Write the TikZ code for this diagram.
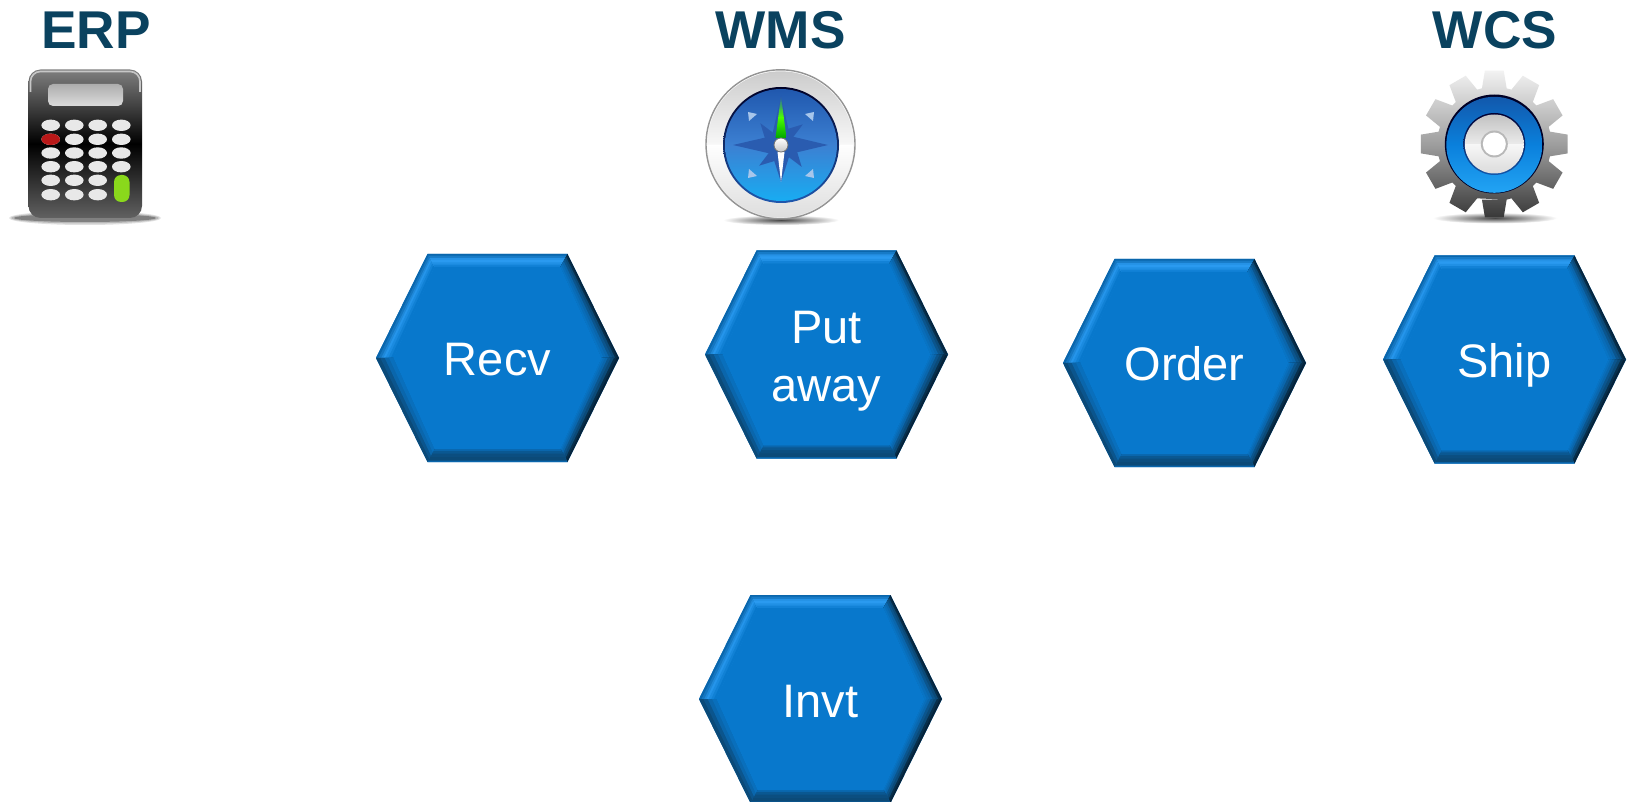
\documentclass[tikz,border=0pt]{standalone}
\usepackage{fontspec}
\setmainfont{Liberation Sans}
\usetikzlibrary{calc}
\definecolor{hexblue}{HTML}{0878CC}
\definecolor{hexhi}{HTML}{2A9AF0}
\definecolor{hexmid}{HTML}{0A66AC}
\definecolor{hexlo}{HTML}{0B4A78}
\definecolor{hexdk}{HTML}{06233A}
\definecolor{titleblue}{HTML}{0A425F}
\definecolor{compA}{HTML}{2058AE}
\definecolor{compB}{HTML}{3C80D2}
\definecolor{compC}{HTML}{18ACF2}
\definecolor{compStar}{HTML}{2A5CB0}
\definecolor{gearBlueA}{HTML}{1258AC}
\definecolor{gearBlueB}{HTML}{0A80DC}
\definecolor{gearBlueC}{HTML}{22A4F4}
\definecolor{keyGreen}{HTML}{8AD81C}
\definecolor{keyRed}{HTML}{B81818}
\tikzset{
  title/.style={font=\fontsize{26.6}{30}\selectfont\bfseries,text=titleblue,inner sep=0pt},
  hexlabel/.style={font=\fontsize{23.5}{29}\selectfont,text=white,align=center,inner sep=0pt},
  softshadow/.style={inner color=black!72,outer color=white},
}
% bevel panel: outer A,B, inner C,D, then t/colour stops painted outer to inner
\newcommand{\bevel}[5]{
  \foreach \t/\c in {#5}{
    \fill[\c] ($#1!\t!#3$) -- ($#2!\t!#4$) -- #4 -- #3 -- cycle;
  }
}
% #1 name, #2 cx, #3 cy, #4 label, #5 label base offset
\newcommand{\hexa}[5]{
  \begin{scope}[shift={(#2,#3)}]
    \fill[hexblue] (-121.5,0)--(-70,-104)--(70,-104)--(121.5,0)--(70,104)--(-70,104)--cycle;
    \bevel{(-121.5,0)}{(-70,-104)}{(-104,0)}{(-63,-91)}{0/hexmid,.15/hexmid!70!hexhi,.3/hexmid!35!hexhi,.42/hexhi!85!hexblue,.55/hexhi!55!hexblue,.7/hexhi!25!hexblue,.85/hexblue}
    \bevel{(-70,-104)}{(70,-104)}{(-63,-91)}{(63,-91)}{0/hexmid,.12/hexmid!60!hexhi,.3/hexhi!85!hexmid,.45/hexhi,.65/hexhi!70!hexblue,.82/hexhi!30!hexblue}
    \bevel{(70,-104)}{(121.5,0)}{(63,-91)}{(104,0)}{0/hexdk,.1/hexdk!70!hexlo,.22/hexlo,.38/hexlo!60!hexmid,.55/hexmid,.72/hexmid!60!hexblue,.88/hexmid!25!hexblue}
    \bevel{(121.5,0)}{(70,104)}{(104,0)}{(63,91)}{0/hexdk,.15/hexdk!70!hexlo,.3/hexlo,.48/hexlo!60!hexmid,.65/hexmid,.8/hexmid!60!hexblue,.92/hexmid!25!hexblue}
    \bevel{(70,104)}{(-70,104)}{(63,91)}{(-63,91)}{0/hexmid,.1/hexlo,.4/hexlo!85!hexmid,.65/hexlo!50!hexmid,.85/hexmid}
    \bevel{(-70,104)}{(-121.5,0)}{(-63,91)}{(-104,0)}{0/hexlo,.25/hexlo!60!hexmid,.5/hexmid,.75/hexmid!50!hexblue}
    \fill[hexblue] (-104,0)--(-63,-91)--(63,-91)--(104,0)--(63,91)--(-63,91)--cycle;
    \node[hexlabel,anchor=base] (#1) at (0,#5) {#4};
  \end{scope}
}
\begin{document}
\begin{tikzpicture}[x=0.5pt,y=-0.5pt]
\useasboundingbox (0,0) rectangle (1629,802);
\fill[white] (0,0) rectangle (1629,802);

\node[title] (erp) at (95.8,30) {ERP};
\node[title] (wms) at (780.5,30) {WMS};
\node[title] (wcs) at (1495,30) {WCS};

% ---- calculator
\begin{scope}
\fill[black!12] (85,218) ellipse (76 and 7);
\fill[black!28] (85,218) ellipse (74 and 5.5);
\fill[black!50] (85,218) ellipse (71 and 4);
\shade[top color=black!50,bottom color=black!62,middle color=black,rounded corners=6pt] (28.5,69.5) rectangle (142,218);
\draw[black!22,line width=.8pt,rounded corners=5pt] (30.5,92) -- (30.5,71.5) -- (140,71.5) -- (140,92);
\shade[top color=black!32,bottom color=black!14,rounded corners=2.5pt] (48,84) rectangle (123,106);
\foreach \cx in {50.7,74.3,97.7,121.3}
  \foreach \cy in {125.3,139.3,153,166.7}
    \fill[black!9] (\cx,\cy) ellipse (9.3 and 5.7);
\foreach \cx in {50.7,74.3,97.7}
  \foreach \cy in {180.3,194.7}
    \fill[black!9] (\cx,\cy) ellipse (9.3 and 5.7);
\fill[keyRed] (50.7,139.3) ellipse (9.3 and 5.7);
\fill[keyGreen,rounded corners=3.5pt] (114,175) rectangle (129.5,202);
\end{scope}

% ---- compass
\shade[softshadow] (781,220) ellipse (58 and 5);
\shade[top color=white,bottom color=black!8,draw=black!42,line width=.7pt] (780.5,144.3) circle (74.5);
\shade[top color=white,bottom color=black!13] (707.5,144.3) arc (180:0:73) -- cycle;
\shade[top color=black!20,bottom color=black!3] (707.5,144.3) arc (180:360:73) -- cycle;
\shade[top color=black!85!blue,bottom color=compA] (781,145) circle (58);
\shade[top color=compA,bottom color=compC,middle color=compB] (781,145) circle (56);
\fill[compStar] (781,145) -- (790,136) -- (828,145) -- (790,154) -- cycle;
\fill[compStar] (781,145) -- (772,136) -- (733,145) -- (772,154) -- cycle;
\fill[compStar] (772,136) -- (781,96) -- (790,136) -- cycle;
\fill[compStar] (772,154) -- (781,182) -- (790,154) -- cycle;
\foreach \a in {45,135,225,315}
  \fill[compStar] (781,145) -- ++(\a+22:10) -- ++(\a-8:21) -- ++(\a+180+28:22) -- cycle;
\foreach \px/\py/\qx/\qy/\rx/\ry in {
   748/112/757/114/749/121,  814/112/805/114/813/121,
   748/178/757/176/749/169,  814/178/805/176/813/169}
  \fill[compB!45!white] (\px,\py) -- (\qx,\qy) -- (\rx,\ry) -- cycle;
\shade[top color=compStar,bottom color=green!65!black,middle color=green!70!yellow] (781,96) -- (786.5,138) -- (775.5,138) -- cycle;
\fill[white] (781,182) -- (784.5,152) -- (777.5,152) -- cycle;
\shade[top color=white,bottom color=black!22,draw=black!55,line width=.4pt] (781,145) circle (7);

% ---- gear
\shade[softshadow] (1495,218) ellipse (62 and 5.5);
\begin{scope}[shift={(1494.3,144)}]
\shade[top color=black!5,bottom color=black!78,middle color=black!38]
  (90-12.5:57)
  \foreach \a in {90,60,30,0,-30,-60,-90,-120,-150,-180,-210,-240}{
    -- (\a+12.5:57) -- (\a+7.3:74) -- (\a-7.3:74) -- (\a-12.5:57)
  } -- cycle;
\fill[black!85!blue] (0,0) circle (49.5);
\shade[top color=gearBlueA,bottom color=gearBlueC,middle color=gearBlueB] (0,.8) circle (48);
\shade[top color=black!80!blue,bottom color=gearBlueA] (0,0) circle (31);
\shade[top color=black!3,bottom color=black!14] (-29.5,0) arc (180:0:29.5) -- cycle;
\shade[top color=black!24,bottom color=black!8] (-29.5,0) arc (180:360:29.5) -- cycle;
\fill[black!28] (0,0) circle (13.5);
\fill[white] (0,0) circle (11.5);
\end{scope}

% ---- hexagons
\hexa{recv}{497.5}{358}{Recv}{17.5}
\hexa{put}{826.5}{354.5}{Put\\away}{47}
\hexa{order}{1184.5}{363}{Order}{17.5}
\hexa{ship}{1504.5}{359.5}{Ship}{18}
\hexa{invt}{820.5}{699}{Invt}{18.5}
\end{tikzpicture}
\end{document}
